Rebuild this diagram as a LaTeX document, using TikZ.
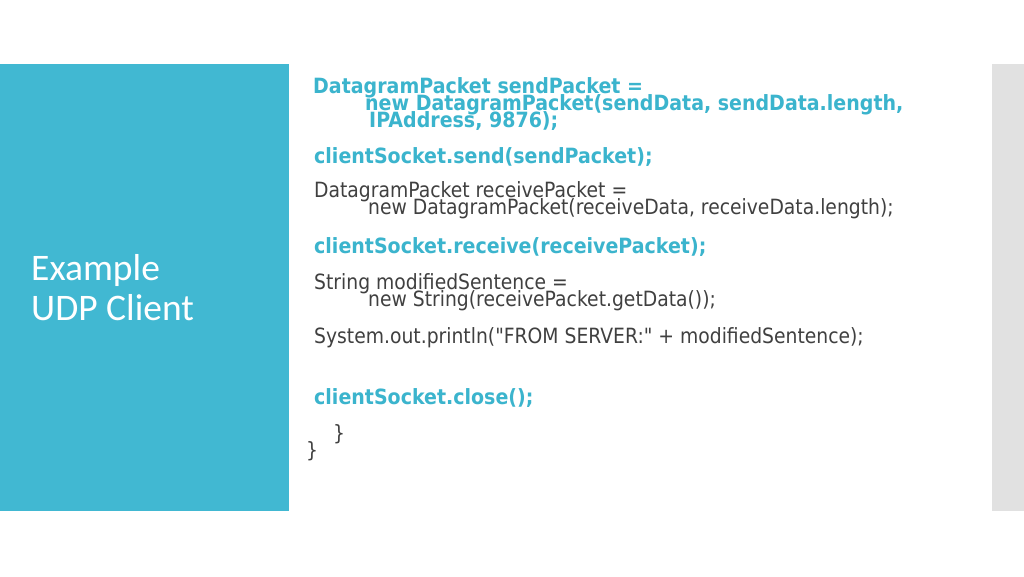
\documentclass[tikz,border=0pt]{standalone}
\usepackage{fontspec}
\setmainfont{Carlito}
\newfontfamily\codereg[FakeStretch=0.893]{DejaVu Sans}
\newfontfamily\codebold[FakeStretch=0.905]{DejaVu Sans Bold}
\definecolor{tealbg}{HTML}{41B8D2}
\definecolor{tealtx}{HTML}{3BB4CD}
\definecolor{codegrey}{HTML}{404040}
\definecolor{stripgrey}{HTML}{E1E1E1}
\tikzset{
  hl/.style={anchor=base west, inner sep=0pt, text=tealtx, font=\codebold\fontsize{21}{21}\selectfont},
  rg/.style={anchor=base west, inner sep=0pt, text=codegrey, font=\codereg\fontsize{21}{21}\selectfont},
  ttl/.style={anchor=base west, inner sep=0pt, text=white, font=\fontsize{37.5}{37.5}\selectfont}
}
\begin{document}
\begin{tikzpicture}[x=1pt,y=-1pt]
\useasboundingbox (0,0) rectangle (1024,576);
\fill[white] (0,0) rectangle (1024,576);
\fill[tealbg] (0,64) rectangle (289,511);
\fill[stripgrey] (992,64) rectangle (1024,511);
\node[ttl] (t1) at (31,280) {Example};
\node[ttl] (t2) at (31,320) {UDP Client};
\node[hl] (l1) at (313,93) {DatagramPacket sendPacket =};
\node[hl] (l2) at (365,110) {new DatagramPacket(sendData, sendData.length,};
\node[hl] (l3) at (369,127) {IPAddress, 9876);};
\node[hl] (l4) at (314,163) {clientSocket.send(sendPacket);};
\node[rg] (l5) at (314,197) {DatagramPacket receivePacket =};
\node[rg] (l6) at (368,214) {new DatagramPacket(receiveData, receiveData.length);};
\node[hl] (l7) at (314,253) {clientSocket.receive(receivePacket);};
\node[rg] (l8) at (314,289) {String modifiedSentence =};
\node[rg] (l9) at (368,306) {new String(receivePacket.getData());};
\node[rg] (l10) at (314,343) {System.out.println("FROM SERVER:" + modifiedSentence);};
\node[hl] (l11) at (314,404) {clientSocket.close();};
\node[rg] (l12) at (333,440) {\}};
\node[rg] (l13) at (306,457) {\}};
\end{tikzpicture}
\end{document}
